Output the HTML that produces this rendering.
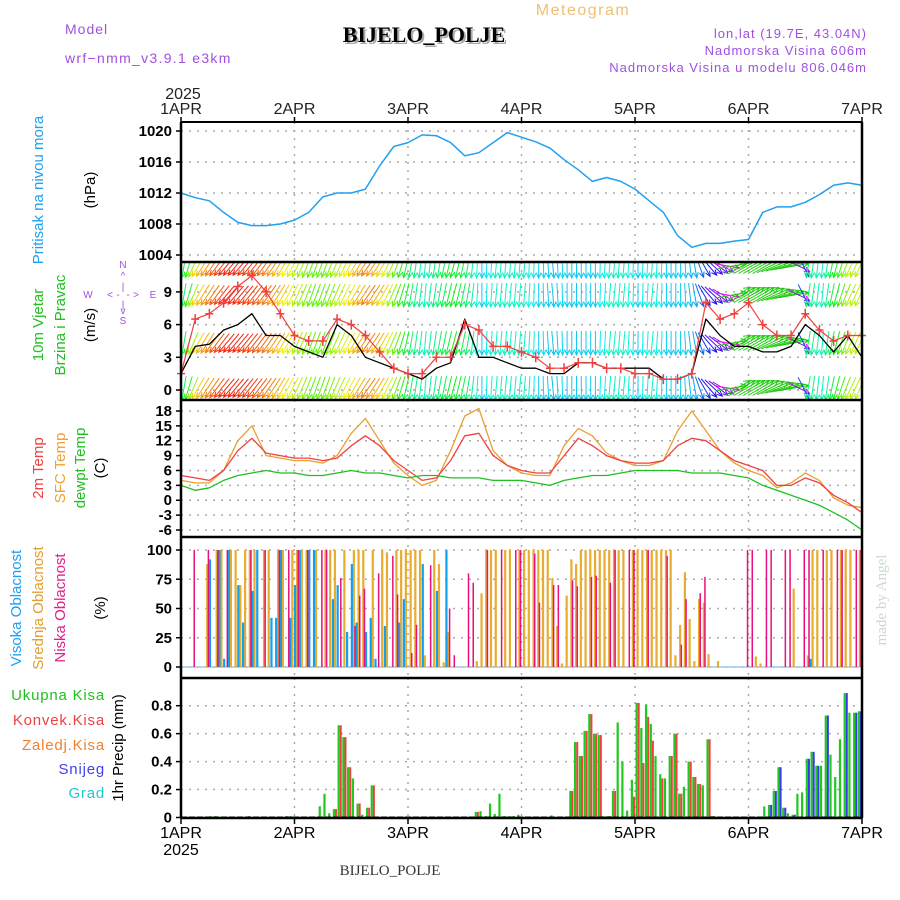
<!DOCTYPE html>
<html><head><meta charset="utf-8"><style>
body{margin:0;background:#fff;}
svg{display:block;font-family:"Liberation Sans",sans-serif;}
</style></head><body>
<svg id="chart" width="900" height="900" viewBox="0 0 900 900" xmlns="http://www.w3.org/2000/svg">
<g id="g-grid"></g>
<g id="g-data"></g>
<g id="g-axes"></g>
<text x="426" y="44" text-anchor="middle" font-family="Liberation Serif,serif" font-weight="bold" font-size="22" fill="#aaa">BIJELO_POLJE</text>
<text x="424" y="42" text-anchor="middle" font-family="Liberation Serif,serif" font-weight="bold" font-size="22" fill="#000">BIJELO_POLJE</text>
<text x="583" y="15" text-anchor="middle" font-size="16" letter-spacing="1.5" fill="#f0c070">Meteogram</text>
<text x="65" y="34" font-size="14" letter-spacing="1" fill="#a050e0">Model</text>
<text x="65" y="63" font-size="14" letter-spacing="1.3" fill="#a050e0">wrf−nmm_v3.9.1  e3km</text>
<text x="867" y="38" text-anchor="end" font-size="13" letter-spacing="1" fill="#a050e0">lon,lat (19.7E, 43.04N)</text>
<text x="867" y="55" text-anchor="end" font-size="13" letter-spacing="1" fill="#a050e0">Nadmorska Visina 606m</text>
<text x="867" y="72" text-anchor="end" font-size="13" letter-spacing="1" fill="#a050e0">Nadmorska Visina u modelu 806.046m</text>
<text x="390" y="875" text-anchor="middle" font-family="Liberation Serif,serif" font-size="15" fill="#333">BIJELO_POLJE</text>
<text transform="translate(886,600) rotate(-90)" text-anchor="middle" font-family="Liberation Serif,serif" font-size="15" fill="#ccd8cc">made by Angel</text>
<text transform="translate(43,190) rotate(-90)" text-anchor="middle" font-size="15" fill="#20a0f0">Pritisak na nivou mora</text>
<text transform="translate(95,190) rotate(-90)" text-anchor="middle" font-size="15" fill="#000">(hPa)</text>
<text transform="translate(43,325) rotate(-90)" text-anchor="middle" font-size="15" fill="#20c020">10m Vjetar</text>
<text transform="translate(65,325) rotate(-90)" text-anchor="middle" font-size="15" fill="#20c020">Brzina i Pravac</text>
<text transform="translate(95,325) rotate(-90)" text-anchor="middle" font-size="15" fill="#000">(m/s)</text>
<g fill="#a050e0" font-size="10" text-anchor="middle">
<text x="123" y="268">N</text><text x="123" y="279">^</text><text x="123" y="290">|</text>
<text x="88" y="298">W</text><text x="110" y="298">&lt;</text><text x="118" y="298">-</text><text x="128" y="298">-</text><text x="136" y="298">&gt;</text><text x="153" y="298">E</text>
<text x="123" y="308">|</text><text x="123" y="314">v</text><text x="123" y="324">S</text>
</g>
<text transform="translate(43,468) rotate(-90)" text-anchor="middle" font-size="15" fill="#f04040">2m Temp</text>
<text transform="translate(65,468) rotate(-90)" text-anchor="middle" font-size="15" fill="#f0a030">SFC Temp</text>
<text transform="translate(85,468) rotate(-90)" text-anchor="middle" font-size="15" fill="#20c020">dewpt Temp</text>
<text transform="translate(105,468) rotate(-90)" text-anchor="middle" font-size="15" fill="#000">(C)</text>
<text transform="translate(21,608) rotate(-90)" text-anchor="middle" font-size="15" fill="#20a0f0">Visoka Oblacnost</text>
<text transform="translate(43,608) rotate(-90)" text-anchor="middle" font-size="15" fill="#e0a030">Srednja Oblacnost</text>
<text transform="translate(65,608) rotate(-90)" text-anchor="middle" font-size="15" fill="#e0208a">Niska Oblacnost</text>
<text transform="translate(105,608) rotate(-90)" text-anchor="middle" font-size="15" fill="#000">(%)</text>
<g font-size="15" text-anchor="end" letter-spacing="0.8">
<text x="105" y="700" fill="#20c020">Ukupna Kisa</text>
<text x="105" y="725" fill="#f04040">Konvek.Kisa</text>
<text x="105" y="750" fill="#f08030">Zaledj.Kisa</text>
<text x="105" y="774" fill="#4040f0">Snijeg</text>
<text x="105" y="798" fill="#20c8d0">Grad</text>
</g>
<text transform="translate(123,748) rotate(-90)" text-anchor="middle" font-size="15" fill="#000">1hr Precip (mm)</text>
</svg>
<script>
// ---- data ----
const dayLabels = ["1APR","2APR","3APR","4APR","5APR","6APR","7APR"];
const pressure = [1012,1011.4,1011,1009.5,1008.2,1007.8,1007.8,1008,1008.5,1009.5,1011.5,1012,1012,1012.5,1015.5,1018,1018.5,1019.5,1019.4,1018.5,1016.8,1017.2,1018.5,1019.8,1019.2,1018.6,1017.8,1016.3,1015,1013.5,1014,1013.5,1012.5,1011,1009.5,1006.5,1005,1005.5,1005.5,1005.8,1006,1009.5,1010.2,1010.2,1010.8,1011.8,1013,1013.3,1013];
const windSpeed = [1.5,4,4.2,5.5,6,7,5,5,4,3.5,3,6,5,3,2.5,2,1.5,1,2,2.5,6.5,3,3,2.5,2,2,1.5,1.5,2.5,2.5,2,2,2,2,1,1,1.5,6.5,5,4,4,3.5,3.5,4,6,5,3.5,5,3];
const windGust = [1.5,6.5,7,8,9.5,10.5,9,7,5,4.5,4.5,6.5,6,5,3.5,2,1.5,1.5,3,3,6,5.5,4,4,3.5,3,2,2,2.5,2.5,2,2,1.5,1.5,1,1,1.5,8,6.5,7,8,6,5,5,7,5.5,4.5,5,5];
const windDir = [10,30,35,40,40,38,35,30,25,20,20,25,30,35,30,20,10,5,10,15,10,0,5,5,5,0,-5,0,0,0,5,5,0,5,0,0,-10,-40,-60,-120,-120,-120,-110,-100,10,5,15,25,25];
const temp2m = [5,4.5,4,6,10,12.5,9.5,9,8.5,8.5,8,8.5,11,13,11,8,6,4,4.5,8,13,13.5,9,7,6,5.5,5.5,9,12.5,11,9,8,7.5,7.5,8,11,12.5,12,10,8,7,6,3,3,4.5,3.5,1,-0.5,-2.5];
const tempSfc = [4,3.5,3.5,6,12,15,9,8.5,8,8,7.5,9,13.5,16.5,12,7.5,5,3,4,10,17,18.5,10,7,5.5,5,5,11,14.5,13,9.5,8,7,7,8,14,18,14,10,7.5,6,5,2.5,3.5,5.5,4,0.5,-1,-1.5];
const dewpt = [3,2,2.5,4,5,5.5,6,5.5,5.5,5,5,5.5,6,5.5,5.5,5,4.5,5,5,4.5,4.5,4.5,4,4,4,3.5,3,4,4.5,5,5,5.5,6,6,6,6,5.5,5.5,5.5,5,4.5,3,2,1,0,-1,-2.5,-4,-6];
const highHours = [6,8,9,10,12,13,15,16,19,20,21,23,24,25,27,28,32,33,35,36,37,39,40,41,43,46,47,51,54,56,133];
const highVals  = [92,100,7,100,70,38,65,100,42,42,100,42,70,100,100,100,58,70,30,88,38,30,42,7,35,38,58,88,65,100,7];
const midHours = [5,7,8,10,11,12,13,14,15,17,18,20,21,23,24,25,26,28,30,31,32,34,36,37,38,40,42,43,45,46,47,48,49,50,51,53,54,55,56,62,63,64,65,66,68,69,71,72,73,74,75,76,77,78,79,80,81,82,83,84,85,86,87,88,89,90,91,92,93,95,96,97,98,99,100,101,102,103,104,105,106,107,108,109,110,111,113,121,122,129,132,133,134,136,137,139,140,141,143];
const midVals  = [88,100,100,100,100,70,100,100,100,100,100,100,100,100,100,100,100,100,100,100,100,100,100,100,100,100,100,98,100,100,100,100,100,100,10,100,88,4,30,5,63,100,100,100,100,100,100,100,100,100,100,100,100,76,35,3,61,92,88,100,100,100,100,100,100,100,100,100,100,100,100,100,100,100,100,100,100,100,10,36,81,41,5,58,55,11,5,9,3,67,10,100,100,100,100,100,100,100,100];
const lowHours = [2,5,7,9,14,17,20,22,24,26,29,30,33,36,37,38,41,44,45,48,49,52,56,57,60,61,64,67,70,71,74,75,78,79,82,83,86,87,90,91,94,95,98,102,105,106,109,110,119,120,123,124,127,128,131,132,135,138,139,142,143];
const lowVals  = [100,100,100,100,100,100,100,100,100,100,100,100,76,35,61,67,80,95,62,12,36,87,50,10,80,72,100,100,100,100,97,55,70,70,74,69,77,78,72,100,100,100,100,95,19,58,63,77,100,100,100,100,100,100,100,100,100,100,100,100,100];
const precipHours = [6,7,14,22,23,29,30,31,32,33,34,35,36,37,38,39,40,62,63,64,65,66,67,68,69,70,71,78,82,83,84,85,86,87,88,89,90,91,92,93,94,95,96,97,98,99,100,101,102,103,104,105,106,107,108,109,110,111,112,123,124,125,126,127,128,129,130,131,132,133,134,135,136,137,138,139,140,141,142,143];
const precipTotal = [0.01,0.01,0.01,0.01,0.01,0.08,0.17,0.03,0.06,0.66,0.575,0.36,0.28,0.1,0.02,0.07,0.23,0.04,0.045,0.01,0.1,0.025,0.17,0.01,0.01,0.01,0.02,0.015,0.19,0.54,0.44,0.62,0.74,0.6,0.59,0.01,0.01,0.19,0.68,0.4,0.05,0.27,0.82,0.64,0.81,0.67,0.44,0.31,0.28,0.44,0.6,0.17,0.22,0.4,0.29,0.24,0.23,0.56,0.01,0.08,0.09,0.19,0.36,0.07,0.03,0.02,0.17,0.18,0.42,0.47,0.37,0.37,0.73,0.45,0.29,0.56,0.89,0.75,0.75,0.76];
const precipConv = [0,0,0,0,0,0,0,0,0.06,0.66,0.575,0.36,0,0.1,0,0.07,0.23,0.04,0,0,0,0,0,0,0,0,0,0,0.19,0.54,0.44,0.62,0.74,0.6,0.59,0,0.01,0.19,0,0,0,0.15,0.82,0.39,0.72,0.55,0,0.28,0,0.44,0.6,0.17,0,0.4,0.29,0.24,0,0.56,0.01,0,0,0,0,0,0,0,0,0,0,0,0,0,0,0,0,0,0,0,0,0];
const precipSnow = [0,0,0,0,0,0,0,0,0,0,0,0,0,0,0,0,0,0,0,0,0,0,0,0,0,0,0,0,0,0,0,0,0,0,0,0,0,0,0,0,0,0,0,0,0,0,0,0,0,0,0,0,0,0,0,0,0,0,0,0,0.09,0.19,0.36,0.07,0,0.02,0,0,0.42,0.47,0.37,0,0.73,0,0,0,0.89,0,0.75,0.76];

// ---- scales ----
const X0=181, X1=862, HOURS=144;
const xH = h => X0 + (X1-X0)*h/HOURS;
const yP = p => 131 + (1020-p)*7.75;
const yW = v => 390 - v*10.9;
const yT = t => 411 + (18-t)*4.958;
const yC = c => 667 - c*1.17;
const yR = r => 817.5 - r*139.75;
const NS="http://www.w3.org/2000/svg";
const gGrid=document.getElementById('g-grid'), gData=document.getElementById('g-data'), gAxes=document.getElementById('g-axes');
function mk(tag, attrs, parent){const e=document.createElementNS(NS,tag);for(const k in attrs)e.setAttribute(k,attrs[k]);parent.appendChild(e);return e;}

const panels=[
 {top:122,bot:262,ticks:[1004,1008,1012,1016,1020],f:yP,lab:v=>v},
 {top:262,bot:400,ticks:[0,3,6,9],f:yW,lab:v=>v},
 {top:400,bot:537,ticks:[-6,-3,0,3,6,9,12,15,18],f:yT,lab:v=>v<0?'-'+(-v):v},
 {top:537,bot:678,ticks:[0,25,50,75,100],f:yC,lab:v=>v},
 {top:678,bot:818,ticks:[0,0.2,0.4,0.6,0.8],f:yR,lab:v=>v===0?'0':v.toFixed(1)}
];
panels.forEach((p,i)=>{
  p.ticks.forEach(t=>{
    const y=p.f(t);
    const gl=mk('line',{x1:X0,x2:X1,y1:y,y2:y,stroke:'#aaa','stroke-width':1.5,'stroke-dasharray':'2,6'},gGrid);
    
    
    const tk=mk('line',{x1:X0-5,x2:X0,y1:y,y2:y,stroke:'#000','stroke-width':1.5},gAxes);
    
    
    const tx=mk('text',{x:X0-9,y:y+5,'text-anchor':'end','font-size':15,'font-weight':'bold',fill:'#000'},gAxes);
    tx.textContent=p.lab(t);
    
    
  });
  for(let d=1;d<6;d++){
    const x=xH(d*24);
    const vl=mk('line',{x1:x,x2:x,y1:p.top,y2:p.bot,stroke:'#aaa','stroke-width':1.5,'stroke-dasharray':'2,6'},gGrid);
    
    
  }
  const sep=mk('line',{x1:X0,x2:X1,y1:p.bot,y2:p.bot,stroke:'#000','stroke-width':2.5},gAxes);
  
  
});
[[X0,X0],[X1,X1]].forEach(a=>{
  const l=mk('line',{x1:a[0],x2:a[1],y1:122,y2:818,stroke:'#000','stroke-width':2.5},gAxes);
  
  
});
const topL=mk('line',{x1:X0,x2:X1,y1:122,y2:122,stroke:'#000','stroke-width':2},gAxes);


dayLabels.forEach((d,i)=>{
  const x=xH(i*24);
  const t1=mk('text',{x:x,y:114,'text-anchor':'middle','font-size':16,fill:'#222'},gAxes);
  t1.textContent=d;
  
  
  const t2=mk('text',{x:x,y:838,'text-anchor':'middle','font-size':16,fill:'#000'},gAxes);
  t2.textContent=d;
  
  
  const tk=mk('line',{x1:x,x2:x,y1:818,y2:824,stroke:'#000','stroke-width':1.5},gAxes);
  
  
  const tk2=mk('line',{x1:x,x2:x,y1:117,y2:122,stroke:'#000','stroke-width':1.5},gAxes);
  
  
});
const yr1=mk('text',{x:xH(0)+2,y:99,'text-anchor':'middle','font-size':16,fill:'#222'},gAxes);
yr1.textContent='2025';


const yr2=mk('text',{x:xH(0),y:855,'text-anchor':'middle','font-size':16,fill:'#000'},gAxes);
yr2.textContent='2025';



function line(arr,fy,color,w,name){
  const pts=arr.map((v,k)=>xH(k*3).toFixed(1)+','+fy(v).toFixed(1)).join(' ');
  const pl=mk('polyline',{points:pts,fill:'none',stroke:color,'stroke-width':w,'stroke-linejoin':'round'},gData);
  
  
}
line(pressure,yP,'#20a0f0',1.5,'pressure-line');
// wind arrows
const clip=mk('clipPath',{id:'wclip'},gData);
mk('rect',{x:X0,y:263,width:X1-X0,height:136},clip);
const gW=mk('g',{'clip-path':'url(#wclip)'},gData);


const rows=[266,295,343,388];
function hueFor(a){ if(a<-90) return 115; if(a<0) return 185-a*1.5; return (190-a*4.6+360)%360; }
for(let h=0;h<HOURS;h++){
  const k=Math.min(48,Math.floor(h/3)), fr=(h%3)/3;
  const a=windDir[k]+(windDir[Math.min(48,k+1)]-windDir[k])*fr;
  const rad=a*Math.PI/180, L=a<-90?30:24;
  const dx=-Math.sin(rad)*L, dy=Math.cos(rad)*L;
  const col='hsl('+hueFor(a)+',90%,'+(a<-90?'42%':'50%')+')';
  rows.forEach(ry=>{
    const x=xH(h)+3, x1=x-dx/2, y1=ry-dy/2, x2=x+dx/2, y2=ry+dy/2;
    const ar=mk('path',{d:'M'+x1.toFixed(1)+','+y1.toFixed(1)+'L'+x2.toFixed(1)+','+y2.toFixed(1)+
      'M'+(x2-(dx*0.22-dy*0.1)).toFixed(1)+','+(y2-(dy*0.22+dx*0.1)).toFixed(1)+'L'+x2.toFixed(1)+','+y2.toFixed(1)+
      'L'+(x2-(dx*0.22+dy*0.1)).toFixed(1)+','+(y2-(dy*0.22-dx*0.1)).toFixed(1),stroke:col,'stroke-width':1,fill:'none'},gW);
    
    
  });
}
line(windSpeed,yW,'#000',1.3,'wind-speed-line');
line(windGust,yW,'#f04040',1.2,'wind-gust-line');
windGust.forEach((v,k)=>{
  const x=xH(k*3), y=yW(v);
  const pm=mk('path',{d:`M${x-4},${y}h8M${x},${y-5}v10`,stroke:'#f04040','stroke-width':1.5},gData);
  
  
});
line(tempSfc,yT,'#e8a030',1.3,'sfc-temp-line');
line(temp2m,yT,'#f04040',1.3,'temp-2m-line');
line(dewpt,yT,'#20c020',1.3,'dewpoint-line');
function cloudBars(hours,vals,color,off,w,name){
  hours.forEach((h,i)=>{
    const x=xH(h)+off, y=yC(vals[i]);
    const r=mk('rect',{x:x,y:y,width:w,height:yC(0)-y,fill:color},gData);
    
    
  });
}
const base=mk('line',{x1:X0,x2:X1,y1:yC(0),y2:yC(0),stroke:'#9cc8e8','stroke-width':1.5},gData);


cloudBars(midHours,midVals,'#e8ac30',1.5,2.2,'mid-cloud-bar');
cloudBars(highHours,highVals,'#10a0f0',-0.5,2.2,'high-cloud-bar');
cloudBars(lowHours,lowVals,'#e8107a',3,1.5,'low-cloud-bar');
precipHours.forEach((h,i)=>{
  const x=xH(h)+0.5;
  const t=mk('rect',{x:x,y:yR(precipTotal[i]),width:2.2,height:yR(0)-yR(precipTotal[i]),fill:'#20c820'},gData);
  
  
  if(precipConv[i]>0){
    const c=mk('rect',{x:x+2.2,y:yR(precipConv[i]),width:2,height:yR(0)-yR(precipConv[i]),fill:'#f04040'},gData);
    
    
  }
  if(precipSnow[i]>0){
    const s=mk('rect',{x:x+2.2,y:yR(precipSnow[i]),width:2,height:yR(0)-yR(precipSnow[i]),fill:'#3838f0'},gData);
    
    
  }
});
const pb=mk('line',{x1:X0,x2:X1,y1:yR(0),y2:yR(0),stroke:'#000','stroke-width':2,'stroke-dasharray':'6,2'},gAxes);


</script>
</body></html>
